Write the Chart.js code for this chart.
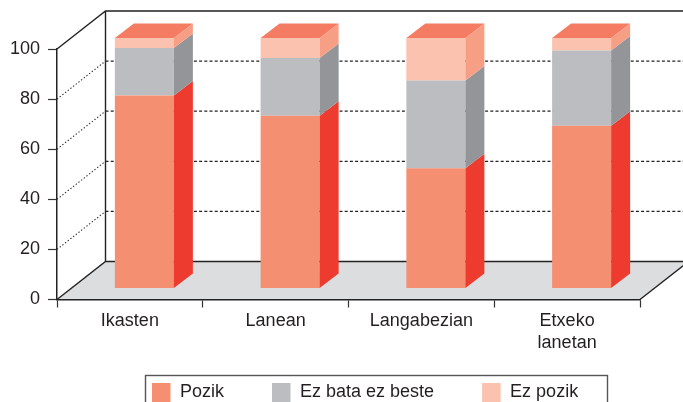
<!DOCTYPE html>
<html><head><meta charset="utf-8">
<script src="https://cdn.jsdelivr.net/npm/chart.js@4/dist/chart.umd.min.js"></script>
<style>html,body{margin:0;padding:0;background:#fff;} #wrap{width:683px;height:402px;position:relative;}</style>
</head><body><div id="wrap"><canvas id="c"></canvas></div>
<script>
// ---- data ----
const categories = ['Ikasten', 'Lanean', 'Langabezian', ['Etxeko', 'lanetan']];
const seriesNames = ['Pozik', 'Ez bata ez beste', 'Ez pozik'];
const pozik = [77, 69, 48, 65];
const ezBataEzBeste = [19, 23, 35, 30];
const ezPozik = [4, 8, 17, 5];
const yTicks = [0, 20, 40, 60, 80, 100];

// ---- style ----
const frontColors = ['#F58F72', '#BCBDC0', '#FBC3AF'];
const sideColors = ['#EE3B30', '#939598', '#F69F85'];
const topColor = '#F47C62';
const FONT = "'Liberation Sans', Arial, Helvetica, sans-serif";
const INK = '#231F20';
const WALL = {dx: 48.5, dy: -38};
const BAR_FRONT = {dx: 14.5, dy: -11};
const BAR_DEPTH = {dx: 19, dy: -14.5};

Chart.defaults.font.family = FONT;
Chart.defaults.font.size = 18;
Chart.defaults.color = INK;

const scene3d = {
  id: 'scene3d',
  beforeDraw(chart) {
    const {ctx, chartArea: a, scales: {y}} = chart;
    const L = a.left, R = a.right;
    const B = y.getPixelForValue(0), T = y.getPixelForValue(100);
    ctx.save();
    // floor
    ctx.fillStyle = '#DCDDDE';
    ctx.beginPath();
    ctx.moveTo(L, B); ctx.lineTo(R, B);
    ctx.lineTo(R + WALL.dx, B + WALL.dy); ctx.lineTo(L + WALL.dx, B + WALL.dy);
    ctx.closePath(); ctx.fill();
    // back wall dashed grid
    ctx.strokeStyle = '#222'; ctx.lineWidth = 1.2; ctx.setLineDash([3, 2.2]);
    yTicks.forEach(v => {
      if (v === 0 || v === 100) return;
      const py = y.getPixelForValue(v) + WALL.dy;
      ctx.beginPath(); ctx.moveTo(L + WALL.dx, py); ctx.lineTo(chart.width, py); ctx.stroke();
    });
    // left wall dotted
    ctx.setLineDash([1.4, 2]); ctx.strokeStyle = '#333'; ctx.lineWidth = 1.1;
    yTicks.forEach(v => {
      if (v === 0 || v === 100) return;
      const py = y.getPixelForValue(v);
      ctx.beginPath(); ctx.moveTo(L, py); ctx.lineTo(L + WALL.dx, py + WALL.dy); ctx.stroke();
    });
    ctx.setLineDash([]);
    ctx.strokeStyle = '#222'; ctx.lineWidth = 1.4;
    ctx.beginPath();
    ctx.moveTo(L, T); ctx.lineTo(L + WALL.dx, T + WALL.dy); ctx.lineTo(chart.width, T + WALL.dy);
    ctx.moveTo(L + WALL.dx, T + WALL.dy); ctx.lineTo(L + WALL.dx, B + WALL.dy);
    ctx.moveTo(L, B); ctx.lineTo(L + WALL.dx, B + WALL.dy); ctx.lineTo(R + WALL.dx, B + WALL.dy);
    ctx.moveTo(R, B); ctx.lineTo(R + WALL.dx, B + WALL.dy);
    ctx.stroke();
    ctx.restore();
  },
  beforeDatasetsDraw(chart) {
    chart.ctx.save();
    chart.ctx.translate(BAR_FRONT.dx, BAR_FRONT.dy);
  },
  afterDatasetsDraw(chart) {
    const ctx = chart.ctx;
    const n = chart.data.datasets.length;
    chart.data.datasets.forEach((ds, i) => {
      const meta = chart.getDatasetMeta(i);
      meta.data.forEach(el => {
        const {x, y, base, width} = el.getProps(['x', 'y', 'base', 'width'], true);
        const xl = x - width / 2, xr = x + width / 2;
        ctx.fillStyle = sideColors[i];
        ctx.beginPath();
        ctx.moveTo(xr, y); ctx.lineTo(xr + BAR_DEPTH.dx, y + BAR_DEPTH.dy);
        ctx.lineTo(xr + BAR_DEPTH.dx, base + BAR_DEPTH.dy); ctx.lineTo(xr, base);
        ctx.closePath(); ctx.fill();
        if (i === n - 1) {
          ctx.fillStyle = topColor;
          ctx.beginPath();
          ctx.moveTo(xl, y); ctx.lineTo(xl + BAR_DEPTH.dx, y + BAR_DEPTH.dy);
          ctx.lineTo(xr + BAR_DEPTH.dx, y + BAR_DEPTH.dy); ctx.lineTo(xr, y);
          ctx.closePath(); ctx.fill();
        }
      });
    });
    ctx.restore();
  },
  afterDraw(chart) {
    const ctx = chart.ctx;
    ctx.save();
    ctx.strokeStyle = '#555'; ctx.lineWidth = 1.4;
    ctx.strokeRect(145.5, 375.5, 462, 40);
    ctx.font = '18px ' + FONT;
    ctx.textBaseline = 'alphabetic';
    let xp = 152;
    chart.data.datasets.forEach((ds, i) => {
      ctx.fillStyle = ds.backgroundColor;
      ctx.fillRect(xp, 383, 18.5, 21);
      ctx.fillStyle = INK;
      ctx.fillText(ds.label, xp + 28, 397);
      xp += 28 + ctx.measureText(ds.label).width + 48;
    });
    ctx.restore();
  }
};

const seriesValues = [pozik, ezBataEzBeste, ezPozik];
new Chart(document.getElementById('c'), {
  type: 'bar',
  data: {
    labels: categories,
    datasets: seriesNames.map((name, i) => ({
      label: name,
      data: seriesValues[i],
      backgroundColor: frontColors[i],
      borderWidth: 0,
      barPercentage: 0.405,
      categoryPercentage: 1,
      clip: false
    }))
  },
  options: {
    responsive: true,
    maintainAspectRatio: false,
    animation: false,
    layout: {padding: {left: 0, right: 43, top: 49, bottom: 0}},
    plugins: {legend: {display: false}, tooltip: {enabled: false}},
    scales: {
      x: {
        stacked: true,
        offset: true,
        grid: {offset: true, drawOnChartArea: false, drawTicks: true, tickLength: 8, color: '#333', tickWidth: 1.2},
        border: {display: true, color: '#222', width: 1.5},
        ticks: {padding: 3, color: INK, font: {size: 18}, maxRotation: 0, autoSkip: false},
        afterFit(s) { s.height = 102.5; }
      },
      y: {
        stacked: true,
        min: 0, max: 100,
        afterBuildTicks(s) { s.ticks = yTicks.map(v => ({value: v})); },
        grid: {drawOnChartArea: false, drawTicks: true, tickLength: 9, color: '#333', tickWidth: 1.2},
        border: {display: true, color: '#222', width: 1.5},
        ticks: {padding: 8, color: INK, font: {size: 18}},
        afterFit(s) { s.width = 57; }
      }
    }
  },
  plugins: [scene3d]
});
</script>
</body></html>
